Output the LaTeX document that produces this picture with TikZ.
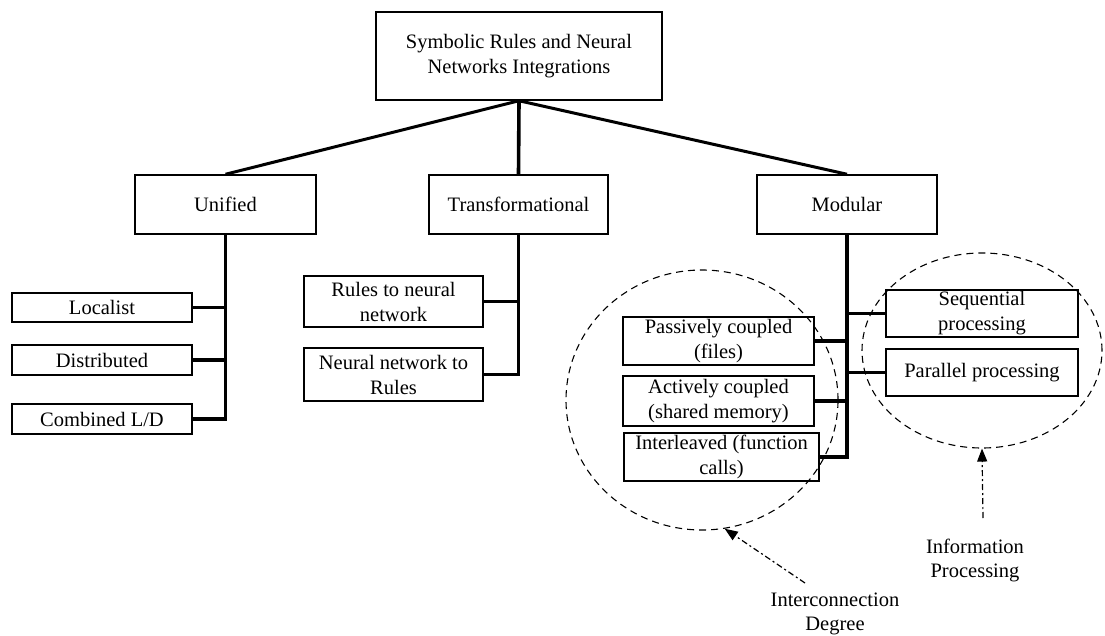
\documentclass[tikz,border=0pt]{standalone}
\usepackage{fontspec}
\setmainfont{Liberation Serif}
\usetikzlibrary{shapes.geometric,arrows.meta}

\begin{document}
\begin{tikzpicture}[x=1pt,y=-1pt,
        box/.style={draw,line width=1.5pt,align=center,inner sep=0pt,font=\fontsize{20.5}{25}\selectfont},
        bus/.style={line width=3.6pt},
        branch/.style={line width=3pt},
        group/.style={draw,ellipse,line width=1.1pt,dash pattern=on 7pt off 5pt,inner sep=0pt},
        pointer/.style={-{Triangle[length=13pt,width=10pt]},line width=1.2pt,dash pattern=on 6pt off 3pt on 2pt off 3pt},
        caption/.style={align=center,inner sep=0pt,font=\fontsize{20.5}{24}\selectfont}]
    \useasboundingbox (0,0) rectangle (1105,636);
    % top
    \node[box,minimum width=286pt,minimum height=88pt] (root) at (519,56) {Symbolic Rules and Neural\\Networks Integrations};
    \node[box,minimum width=181pt,minimum height=59pt] (unified) at (225.5,204.5) {Unified};
    \node[box,minimum width=179pt,minimum height=59pt] (trans) at (518.5,204.5) {Transformational};
    \node[box,minimum width=180pt,minimum height=59pt] (modular) at (847,204.5) {Modular};
    \draw[branch] (root.south) -- (unified.north);
    \draw[bus] (root.south) -- (trans.north);
    \draw[branch] (root.south) -- (modular.north);
    % unified
    \node[box,minimum width=180pt,minimum height=29pt] (localist) at (102,307.5) {Localist};
    \node[box,minimum width=180pt,minimum height=30pt] (distributed) at (102,360) {Distributed};
    \node[box,minimum width=180pt,minimum height=30pt] (combined) at (102,419) {Combined L/D};
    \draw[bus] (unified.south) |- (combined.east);
    \draw[bus] (localist.east) -- (localist.east -| unified.south);
    \draw[bus] (distributed.east) -- (distributed.east -| unified.south);
    % transformational
    \node[box,minimum width=179pt,minimum height=51pt] (rules2nn) at (393.5,301.5) {Rules to neural\\network};
    \node[box,minimum width=179pt,minimum height=53pt] (nn2rules) at (393.5,374.5) {Neural network to\\Rules};
    \draw[bus] (trans.south) |- (nn2rules.east);
    \draw[bus] (rules2nn.east) -- (rules2nn.east -| trans.south);
    % modular
    \node[box,minimum width=191pt,minimum height=48pt] (passive) at (718.5,341) {Passively coupled\\(files)};
    \node[box,minimum width=191pt,minimum height=50pt] (active) at (718.5,401) {Actively coupled\\(shared memory)};
    \node[box,minimum width=195pt,minimum height=48pt] (interleaved) at (721.5,457) {Interleaved (function\\calls)};
    \node[box,minimum width=192pt,minimum height=47pt] (sequential) at (982,313.5) {Sequential\\processing};
    \node[box,minimum width=192pt,minimum height=47pt] (parallel) at (982,372.5) {Parallel processing};
    \draw[bus] (modular.south) |- (interleaved.east);
    \draw[bus] (passive.east) -- (passive.east -| modular.south);
    \draw[bus] (active.east) -- (active.east -| modular.south);
    \draw[bus] (sequential.west) -- (sequential.west -| modular.south);
    \draw[bus] (parallel.west) -- (parallel.west -| modular.south);
    % groups
    \node[group,minimum width=272pt,minimum height=260pt] (icGroup) at (702,400) {};
    \node[group,minimum width=240pt,minimum height=195pt] (ipGroup) at (982,350.5) {};
    \node[caption] (ipLabel) at (975,560) {Information\\Processing};
    \node[caption] (icLabel) at (835,614) {Interconnection\\Degree};
    \coordinate (ipTail) at (983,518);
    \coordinate (icTail) at (805,583);
    \draw[pointer] (ipTail) -- (ipGroup.south);
    \draw[pointer] (icTail) -- (icGroup.-80);
\end{tikzpicture}
\end{document}
